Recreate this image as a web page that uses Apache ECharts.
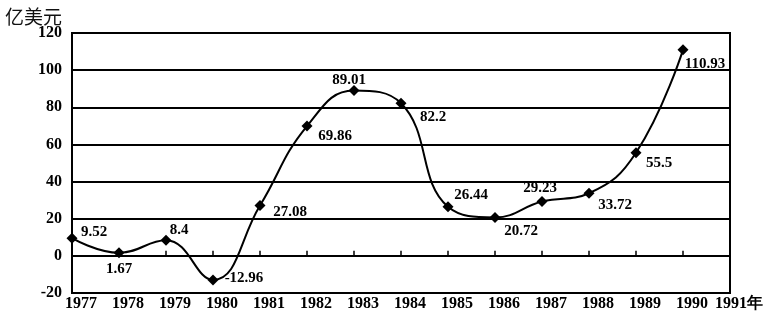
<!DOCTYPE html>
<html><head><meta charset="utf-8">
<script src="https://cdn.jsdelivr.net/npm/echarts@6/dist/echarts.min.js"></script>
<style>html,body{margin:0;padding:0;background:#fff}#c{width:780px;height:315px}</style>
</head><body><div id="c"></div>
<script>
var years = ['1977','1978','1979','1980','1981','1982','1983','1984','1985','1986','1987','1988','1989','1990','1991'];
var values = [9.52, 1.67, 8.4, -12.96, 27.08, 69.86, 89.01, 82.2, 26.44, 20.72, 29.23, 33.72, 55.5, 110.93];
var valueLabels = ['9.52','1.67','8.4','-12.96','27.08','69.86','89.01','82.2','26.44','20.72','29.23','33.72','55.5','110.93'];
var yTicks = { min: -20, max: 120, interval: 20 };
var unitLabel = '亿美元';
var yearSuffix = '年';

var labelOffsets = [[22,-6],[0,16],[13,-10],[31,-2],[30,7],[28,10],[-5,-10],[32,14],[23,-12],[26,14],[-2,-13],[26,12],[23,10],[22,14]];
var font = 'Liberation Serif';
var seriesData = values.map(function(v, i){
  return { value: v, label: { show: true, position: 'inside', offset: labelOffsets[i], formatter: valueLabels[i] } };
});

var chart = echarts.init(document.getElementById('c'));
chart.setOption({
  animation: false,
  title: { text: unitLabel, left: 0, top: 2, textStyle: { fontFamily: 'Noto Sans CJK SC', fontSize: 19, fontWeight: 'normal', color: '#111' } },
  grid: { left: 72, right: 50, top: 33, bottom: 22, show: false },
  xAxis: [{
    type: 'category', data: years, boundaryGap: false,
    axisLine: { onZero: false, lineStyle: { color: '#000', width: 2 } },
    axisTick: { show: false },
    axisLabel: { interval: 0, hideOverlap: false, color: '#000', fontFamily: font, fontWeight: 'bold', fontSize: 16, margin: 3, padding: [0,0,0,18],
      formatter: function(v, i){ return i === years.length - 1 ? v + yearSuffix : v; } },
    splitLine: { show: false }
  }, {
    type: 'category', data: years, boundaryGap: false, position: 'bottom',
    axisLine: { onZero: true, lineStyle: { color: '#000', width: 2 } },
    axisTick: { show: true, inside: true, interval: 0, length: 5, lineStyle: { color: '#000', width: 1.5 } },
    axisLabel: { show: false }
  }],
  yAxis: {
    type: 'value', min: yTicks.min, max: yTicks.max, interval: yTicks.interval,
    axisLine: { show: true, lineStyle: { color: '#000', width: 2 } },
    axisTick: { show: false },
    axisLabel: { color: '#000', fontFamily: font, fontWeight: 'bold', fontSize: 16, margin: 10 },
    splitLine: { show: true, lineStyle: { color: '#000', width: 2.2 } }
  },
  graphic: [{ type: 'rect', shape: { x: 72, y: 33, width: 658, height: 260 }, style: { fill: 'none', stroke: '#000', lineWidth: 2 }, silent: true }],
  series: [{
    type: 'line', data: seriesData, smooth: 0.45, xAxisIndex: 0,
    symbol: 'diamond', symbolSize: 11,
    lineStyle: { color: '#000', width: 2 },
    itemStyle: { color: '#000' },
    label: { color: '#000', fontFamily: font, fontWeight: 'bold', fontSize: 15 }
  }]
});
</script></body></html>
